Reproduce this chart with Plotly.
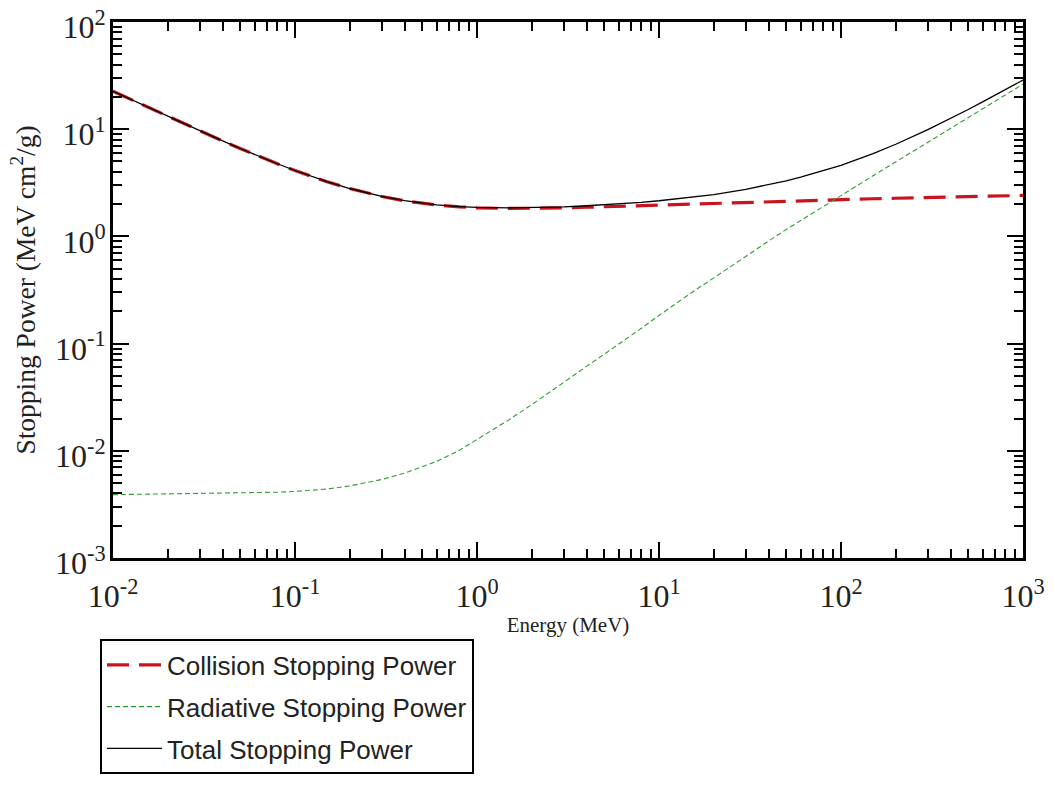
import plotly.graph_objects as go

# Electron stopping power in water (MeV cm^2/g) versus kinetic energy (MeV)
energy = [0.01, 0.015, 0.02, 0.03, 0.04, 0.05, 0.06, 0.08, 0.1, 0.15, 0.2, 0.3,
          0.4, 0.5, 0.6, 0.8, 1.0, 1.5, 2.0, 3.0, 4.0, 5.0, 6.0, 8.0, 10.0, 15.0,
          20.0, 30.0, 40.0, 50.0, 60.0, 80.0, 100.0, 150.0, 200.0, 300.0, 400.0,
          500.0, 600.0, 800.0, 1000.0]

collision = [22.56, 16.45, 13.14, 9.653, 7.768, 6.603, 5.797, 4.757, 4.115, 3.238,
             2.793, 2.355, 2.148, 2.034, 1.963, 1.886, 1.849, 1.822, 1.824, 1.846,
             1.870, 1.892, 1.911, 1.942, 1.968, 2.014, 2.046, 2.089, 2.118, 2.141,
             2.158, 2.186, 2.206, 2.244, 2.270, 2.306, 2.331, 2.350, 2.366, 2.391,
             2.410]

radiative = [3.898e-3, 3.944e-3, 3.963e-3, 3.984e-3, 4.005e-3, 4.028e-3, 4.052e-3,
             4.109e-3, 4.176e-3, 4.40e-3, 4.70e-3, 5.40e-3, 6.20e-3, 7.05e-3,
             7.95e-3, 1.01e-2, 1.28e-2, 1.95e-2, 2.70e-2, 4.35e-2, 6.10e-2,
             7.95e-2, 9.85e-2, 1.39e-1, 1.83e-1, 2.97e-1, 4.10e-1, 6.56e-1,
             9.05e-1, 1.16, 1.41, 1.91, 2.40, 3.68, 4.97, 7.60, 10.25, 12.92,
             15.62, 21.0, 26.3]

total = [c + r for c, r in zip(collision, radiative)]

x_ticks = [1e-2, 1e-1, 1e0, 1e1, 1e2, 1e3]
x_tick_text = ["10<sup>-2</sup>", "10<sup>-1</sup>", "10<sup>0</sup>",
               "10<sup>1</sup>", "10<sup>2</sup>", "10<sup>3</sup>"]
y_ticks = [1e-3, 1e-2, 1e-1, 1e0, 1e1, 1e2]
y_tick_text = ["10<sup>-3</sup>", "10<sup>-2</sup>", "10<sup>-1</sup>",
               "10<sup>0</sup>", "10<sup>1</sup>", "10<sup>2</sup>"]


def minor_decade_ticks(lo_exp, hi_exp):
    vals = []
    for p in range(lo_exp, hi_exp):
        for k in range(2, 10):
            vals.append(k * 10.0 ** p)
    return vals


SERIF = "Liberation Serif, Times New Roman, serif"
SANS = "Liberation Sans, Arial, sans-serif"

fig = go.Figure()
fig.add_trace(go.Scatter(
    x=energy, y=collision, mode="lines", name="Collision Stopping Power",
    legendgroup="c", line=dict(color="#c8141e", width=3.2, dash="22px,10px")))
fig.add_trace(go.Scatter(
    x=energy, y=radiative, mode="lines", name="Radiative Stopping Power",
    legendgroup="r", line=dict(color="#2e9e2e", width=1.1, dash="5px,3px")))
fig.add_trace(go.Scatter(
    x=energy, y=total, mode="lines", name="Total Stopping Power",
    legendgroup="t", line=dict(color="black", width=1.3)))

axis_common = dict(
    type="log", showline=True, linecolor="black", linewidth=3, mirror="allticks",
    ticks="inside", ticklen=16, tickwidth=2, tickcolor="black",
    showgrid=False, zeroline=False, tickmode="array",
    ticklabeloverflow="allow",
    tickfont=dict(family=SERIF, size=32, color="#222"),
)

fig.update_xaxes(
    **axis_common, range=[-2, 3], tickvals=x_ticks, ticktext=x_tick_text,
    minor=dict(tickmode="array", tickvals=minor_decade_ticks(-2, 3),
               ticks="inside", ticklen=9, tickwidth=2, tickcolor="black",
               showgrid=False),
    title=dict(text="Energy (MeV)", font=dict(family=SERIF, size=21, color="#222"),
               standoff=4),
    ticklabelstandoff=8,
)
fig.update_yaxes(
    **axis_common, range=[-3, 2], tickvals=y_ticks, ticktext=y_tick_text,
    minor=dict(tickmode="array", tickvals=minor_decade_ticks(-3, 2),
               ticks="inside", ticklen=9, tickwidth=2, tickcolor="black",
               showgrid=False),
    title=dict(text="Stopping Power (MeV cm<sup>2</sup>/g)",
               font=dict(family=SERIF, size=27.5, color="#222"), standoff=12),
    ticklabelstandoff=-2, ticklabelshift=5,
)

fig.update_layout(
    width=1055, height=792,
    margin=dict(l=113, r=32, t=22, b=234, autoexpand=False),
    paper_bgcolor="white", plot_bgcolor="white",
    showlegend=True,
    legend=dict(
        x=-0.0143, y=-0.152, xanchor="left", yanchor="top",
        bordercolor="black", borderwidth=2, bgcolor="white",
        font=dict(family=SANS, size=26, color="#222"),
        tracegroupgap=5, itemwidth=55,
    ),
)

fig.write_html("out.html")
